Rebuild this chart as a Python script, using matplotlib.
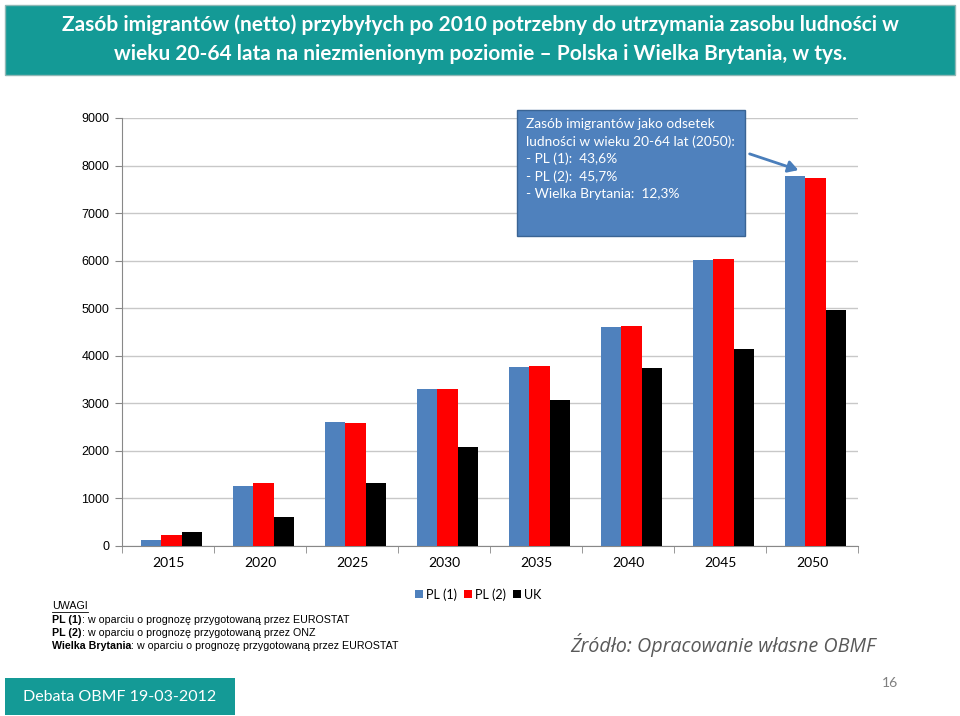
import matplotlib
matplotlib.use("Agg")
import matplotlib.pyplot as plt
from matplotlib.patches import Rectangle, FancyArrowPatch
import numpy as np

years = ["2015", "2020", "2025", "2030", "2035", "2040", "2045", "2050"]
pl1 = [126, 1260, 2610, 3305, 3770, 4610, 6020, 7770]
pl2 = [231, 1320, 2590, 3305, 3790, 4630, 6040, 7740]
uk = [288, 610, 1325, 2085, 3075, 3750, 4150, 4970]
series_names = ["PL (1)", "PL (2)", "UK"]
colors = ["#4F81BD", "#FF0000", "#000000"]

W, H = 960, 716
fig = plt.figure(figsize=(9.6, 7.16), dpi=100)
fig.patch.set_facecolor("white")

def fx(px):
    return px / W

def fy(py):
    return 1 - py / H

font = ["Lato", "DejaVu Sans"]
teal = "#149A96"

# title banner
fig.patches.append(Rectangle((fx(5), fy(75)), fx(950), 70 / H, transform=fig.transFigure,
                             facecolor=teal, edgecolor="#8fb8b6", lw=1))
fig.text(0.5, fy(25), "Zasób imigrantów (netto) przybyłych po 2010 potrzebny do utrzymania zasobu ludności w",
         ha="center", va="center", color="white", fontsize=15, fontweight="bold", family=font)
fig.text(0.5, fy(54), "wieku 20-64 lata na niezmienionym poziomie – Polska i Wielka Brytania, w tys.",
         ha="center", va="center", color="white", fontsize=15, fontweight="bold", family=font)

# axes
left, right, top, bottom = 122, 858, 118, 546
ax = fig.add_axes([fx(left), fy(bottom), (right - left) / W, (bottom - top) / H])
x = np.arange(len(years))
bw = 0.222
for i, (vals, c) in enumerate(zip([pl1, pl2, uk], colors)):
    ax.bar(x + (i - 1) * bw + 0.04, vals, width=bw, color=c, label=series_names[i], zorder=3)

ax.set_xlim(-0.5, len(years) - 0.5)
ax.set_ylim(0, 9000)
ax.set_yticks(np.arange(0, 9001, 1000))
ax.set_yticklabels([str(v) for v in range(0, 9001, 1000)], fontsize=9, family=["Liberation Sans"])
ax.set_xticks(x)
ax.set_xticklabels(years, fontsize=10, family=font)
ax.set_xticks(np.arange(-0.5, len(years), 1), minor=True)
ax.tick_params(axis="x", which="major", length=0, pad=8)
ax.tick_params(axis="x", which="minor", length=5, color="#888888", direction="out")
ax.tick_params(axis="y", length=5, color="#888888", direction="out", pad=4)
ax.yaxis.grid(True, color="#C8C8C8", lw=1, zorder=0)
ax.set_axisbelow(True)
for s in ["top", "right"]:
    ax.spines[s].set_visible(False)
ax.spines["left"].set_color("#888888")
ax.spines["bottom"].set_color("#888888")

# legend
ax.legend(loc="upper left", bbox_to_anchor=(fx(410), fy(583)), bbox_transform=fig.transFigure,
          ncol=3, frameon=False, prop={"family": font, "size": 9}, handlelength=0.6,
          handleheight=0.6, handletextpad=0.25, columnspacing=0.6, borderaxespad=0)

# annotation box
fig.patches.append(Rectangle((fx(517), fy(236)), 228 / W, 126 / H, transform=fig.transFigure,
                             facecolor="#4F81BD", edgecolor="#3A6494", lw=1, zorder=5))
box_lines = ["Zasób imigrantów jako odsetek", "ludności w wieku 20-64 lat (2050):",
             "- PL (1):  43,6%", "- PL (2):  45,7%", "- Wielka Brytania:  12,3%"]
for k, line in enumerate(box_lines):
    fig.text(fx(526), fy(124 + k * 17.5), line, ha="left", va="center", color="white",
             fontsize=9.9, family=font, zorder=6)
arrow = FancyArrowPatch((fx(747), fy(153)), (fx(801), fy(171)), transform=fig.transFigure,
                        arrowstyle="-|>,head_length=6,head_width=3.5", color="#4A7EBB", lw=2, zorder=6)
fig.patches.append(arrow)

# notes
notes_font = ["Liberation Sans", "DejaVu Sans"]
fig.text(fx(52), fy(606), "UWAGI", fontsize=7.7, family=notes_font, va="center")
fig.add_artist(plt.Line2D([fx(52), fx(88)], [fy(612), fy(612)], color="black", lw=0.6))
note_rows = [("PL (1)", ": w oparciu o prognozę przygotowaną przez EUROSTAT"),
             ("PL (2)", ": w oparciu o prognozę przygotowaną przez ONZ"),
             ("Wielka Brytania", ": w oparciu o prognozę przygotowaną przez EUROSTAT")]
for k, (b, rest) in enumerate(note_rows):
    t = fig.text(fx(52), fy(620 + k * 13), b, fontsize=7.7, family=notes_font,
                 fontweight="bold", va="center")
    fig.canvas.draw()
    bb = t.get_window_extent()
    fig.text(bb.x1 / W, fy(620 + k * 13), rest, fontsize=7.7, family=notes_font, va="center")

# source
fig.text(fx(570), fy(645), "Źródło: Opracowanie własne OBMF", fontsize=14.2, style="italic",
         color="#595959", family=["Open Sans", "DejaVu Sans"], va="center")

# footer
fig.patches.append(Rectangle((fx(5), fy(715)), 230 / W, 37 / H, transform=fig.transFigure,
                             facecolor=teal, edgecolor="none"))
fig.text(fx(120), fy(697), "Debata OBMF 19-03-2012", ha="center", va="center", color="white",
         fontsize=11.5, family=font)
fig.text(fx(890), fy(683), "16", ha="center", va="center", color="#7f7f7f", fontsize=10, family=font)

fig.savefig("out.png", dpi=100)
